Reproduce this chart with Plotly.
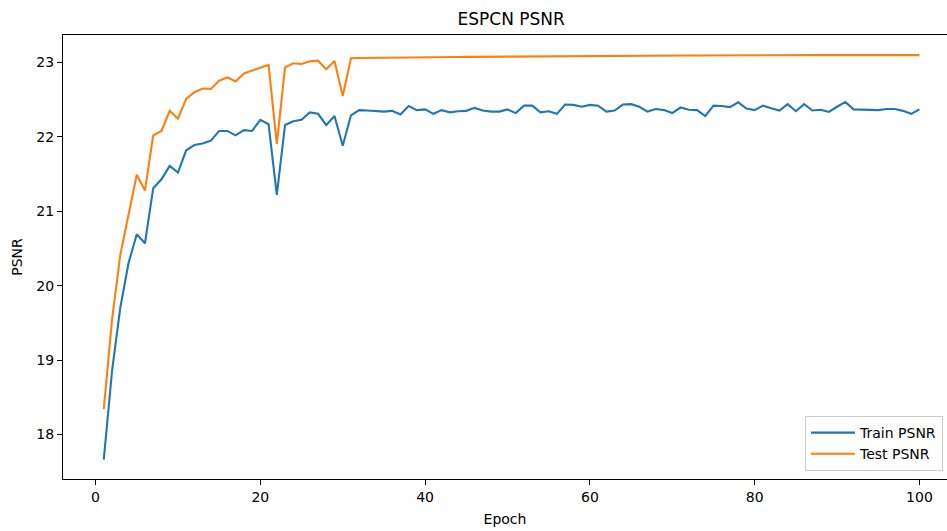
import plotly.graph_objects as go

epochs = list(range(1, 101))

train_psnr = [
    17.66, 18.85, 19.70, 20.30, 20.69, 20.57, 21.31, 21.43, 21.61, 21.52,
    21.82, 21.89, 21.91, 21.95, 22.08, 22.08, 22.02, 22.09, 22.08, 22.23,
    22.17, 21.22, 22.16, 22.21, 22.23, 22.33, 22.31, 22.16, 22.28, 21.88,
    22.29, 22.36, 22.355, 22.345, 22.34, 22.35, 22.30, 22.415, 22.36, 22.37,
    22.31, 22.36, 22.33, 22.345, 22.35, 22.39, 22.355, 22.34, 22.34, 22.37,
    22.32, 22.42, 22.42, 22.33, 22.345, 22.31, 22.435, 22.43, 22.405, 22.43,
    22.42, 22.34, 22.355, 22.435, 22.44, 22.405, 22.34, 22.375, 22.36, 22.32,
    22.395, 22.365, 22.36, 22.28, 22.42, 22.415, 22.40, 22.465, 22.38, 22.36,
    22.42, 22.385, 22.355, 22.44, 22.345, 22.44, 22.355, 22.365, 22.335, 22.405,
    22.47, 22.37, 22.37, 22.365, 22.36, 22.375, 22.375, 22.35, 22.31, 22.37,
]

test_psnr = [
    18.34, 19.54, 20.41, 20.95, 21.49, 21.28, 22.02, 22.08, 22.35, 22.245,
    22.51, 22.60, 22.65, 22.645, 22.755, 22.80, 22.745, 22.853, 22.89, 22.93,
    22.968, 21.905, 22.935, 22.99, 22.98, 23.016, 23.025, 22.908, 23.02, 22.55,
    23.058, 23.060, 23.062, 23.063, 23.064, 23.064, 23.066, 23.068, 23.069, 23.070,
    23.072, 23.073, 23.073, 23.075, 23.076, 23.077, 23.078, 23.079, 23.080, 23.080,
    23.078, 23.082, 23.083, 23.083, 23.084, 23.083, 23.086, 23.087, 23.088, 23.089,
    23.090, 23.091, 23.091, 23.092, 23.092, 23.093, 23.093, 23.093, 23.094, 23.094,
    23.095, 23.095, 23.095, 23.096, 23.096, 23.096, 23.096, 23.097, 23.097, 23.097,
    23.097, 23.098, 23.098, 23.098, 23.097, 23.098, 23.099, 23.099, 23.099, 23.099,
    23.099, 23.100, 23.100, 23.100, 23.100, 23.100, 23.100, 23.100, 23.100, 23.100,
]

x_ticks = [0, 20, 40, 60, 80, 100]
y_ticks = [18, 19, 20, 21, 22, 23]

FONT = "DejaVu Sans"

fig = go.Figure()
fig.add_trace(go.Scatter(x=epochs, y=train_psnr, mode="lines", name="Train PSNR",
                         legendgroup="train",
                         line=dict(color="#1f77b4", width=2.1)))
fig.add_trace(go.Scatter(x=epochs, y=test_psnr, mode="lines", name="Test PSNR",
                         legendgroup="test",
                         line=dict(color="#ff7f0e", width=2.1)))

axis_common = dict(showgrid=False, zeroline=False, showline=True, linecolor="black",
                   linewidth=1.1, ticks="outside", ticklen=5, tickwidth=1.1,
                   tickcolor="black", tickfont=dict(family=FONT, size=14, color="black"))

fig.update_layout(
    width=947, height=531,
    margin=dict(l=63, r=0, t=35, b=52),
    paper_bgcolor="white", plot_bgcolor="white",
    font=dict(family=FONT, color="black"),
    title=dict(text="ESPCN PSNR", x=0.507, xref="paper", xanchor="center",
               y=1 - 19 / 531, yref="container", yanchor="middle",
               font=dict(family=FONT, size=17, color="black")),
    xaxis=dict(range=[-3.95, 103.34], tickvals=x_ticks, mirror=True,
               title=dict(text="Epoch", font=dict(family=FONT, size=14, color="black"), standoff=10),
               **axis_common),
    yaxis=dict(range=[17.40, 23.37], tickvals=y_ticks,
               title=dict(text="PSNR", font=dict(family=FONT, size=14, color="black"), standoff=10),
               **axis_common),
    legend=dict(x=0.9955, y=0.018, xanchor="right", yanchor="bottom",
                tracegroupgap=4, traceorder="normal", itemwidth=44,
                bgcolor="rgba(255,255,255,0.8)", bordercolor="#cccccc", borderwidth=1,
                font=dict(family=FONT, size=14, color="black")),
    showlegend=True,
)

fig.write_html("out.html", config={"displayModeBar": False},
               post_script="document.body.style.margin='0';document.body.style.overflow='hidden';")
